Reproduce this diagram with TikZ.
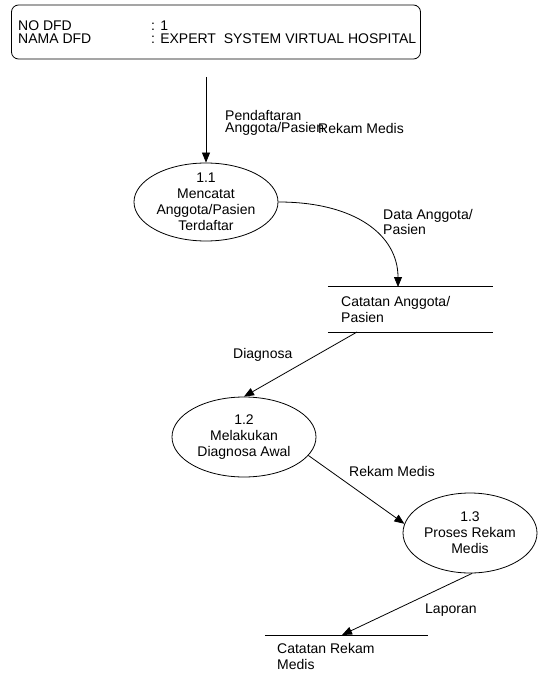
\documentclass[tikz,border=0pt]{standalone}
\usepackage{fontspec}
\setmainfont{Liberation Sans}
\usetikzlibrary{shapes.geometric,arrows.meta,calc}

\tikzset{
  txt/.style={inner sep=0pt, anchor=west, align=left,
    font=\fontsize{14}{15.5}\selectfont},
  proc/.style={draw, ellipse, inner sep=0pt, line width=0.8pt},
  ptext/.style={inner sep=0pt, align=center,
    font=\fontsize{14}{16}\selectfont},
  flow/.style={line width=0.8pt, -{Triangle[length=10pt,width=8pt]}},
  rule/.style={line width=0.8pt},
}

\begin{document}
\begin{tikzpicture}[x=1pt,y=-1pt]
\useasboundingbox (0,0) rectangle (538,679);

% header box
\node[draw, rounded corners=7pt, line width=0.8pt, minimum width=409pt,
      minimum height=54pt, inner sep=0pt] (hdr) at (216,32) {};
\node[txt] (h1) at (18,26) {NO DFD};
\node[txt] (h2) at (18,39) {NAMA DFD};
\node[txt] (h3) at (151,26) {: 1};
\node[txt] (h4) at (151,39) {: EXPERT\ \ SYSTEM VIRTUAL HOSPITAL};

% processes
\node[proc, minimum width=144pt, minimum height=78pt] (p1) at (206,202) {};
\node[ptext] (t1) at (p1.center) {1.1\\Mencatat\\Anggota/Pasien\\Terdaftar};

\node[proc, minimum width=144pt, minimum height=80pt] (p2) at (244,437) {};
\node[ptext] (t2) at (p2.center) {1.2\\Melakukan\\Diagnosa Awal};

\node[proc, minimum width=134pt, minimum height=80pt] (p3) at (470,533) {};
\node[ptext] (t3) at (p3.center) {1.3\\Proses Rekam\\Medis};

% data store: Catatan Anggota/Pasien
\node[minimum width=165pt, minimum height=45pt, inner sep=0pt] (s1) at (410.5,309.5) {};
\draw[rule] (s1.north west) -- (s1.north east);
\draw[rule] (s1.south west) -- (s1.south east);
\node[txt] (s1t) at (341,309.5) {Catatan Anggota/\\Pasien};

% data store: Catatan Rekam Medis
\node[minimum width=163pt, minimum height=0pt, inner sep=0pt] (s2) at (346.5,635) {};
\draw[rule] (s2.west) -- (s2.east);
\node[txt] (s2t) at (277,656.5) {Catatan Rekam\\Medis};

% flows
\coordinate (src) at (206,77);
\draw[flow] (src) -- (p1.north);
\node[txt, font=\fontsize{14}{12}\selectfont] (l1) at (225,123) {Pendaftaran\\Anggota/Pasien};
\node[txt] (l2) at (318,128) {Rekam Medis};

\coordinate (s1in) at (398,287);
\draw[flow] (p1.east) .. controls (355,202) and (398,235) .. (s1in);
\node[txt] (l3) at (383,222) {Data Anggota/\\Pasien};

\coordinate (s1out) at (357,332);
\draw[flow] (s1out) -- (p2.north);
\node[txt] (l4) at (233,355) {Diagnosa};

\draw[flow] (p2.-16) -- (p3.172);
\node[txt] (l5) at (349,471) {Rekam Medis};

\coordinate (s2in) at (342,635);
\draw[flow] (p3.-87) -- (s2in);
\node[txt] (l6) at (425,610) {Laporan};
\end{tikzpicture}
\end{document}
